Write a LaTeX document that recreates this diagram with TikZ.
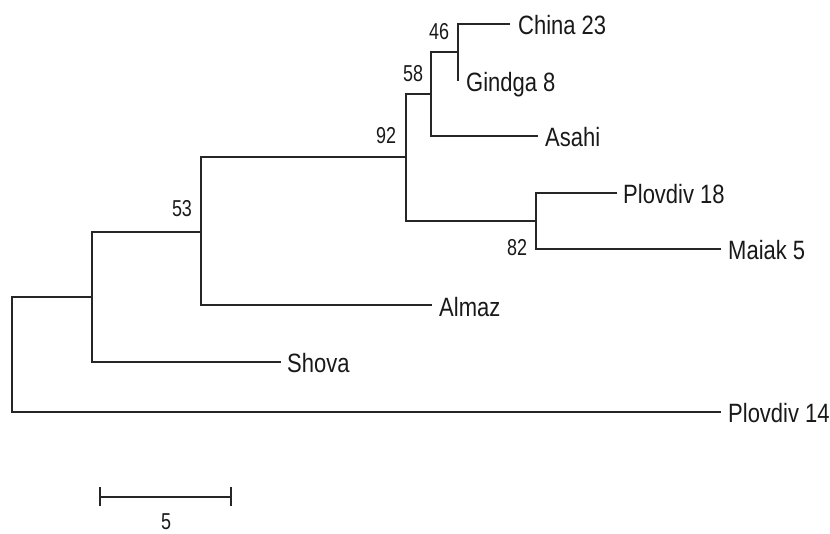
\documentclass[tikz,border=0pt]{standalone}
\usepackage{fontspec}
\setmainfont[FakeStretch=0.83]{Liberation Sans}
\newfontfamily\numfont[FakeStretch=0.78]{Liberation Sans}
\begin{document}
\begin{tikzpicture}[x=1pt,y=-1pt,
  branch/.style={line width=1.8pt, draw=black!85, line cap=rect},
  leaf/.style={anchor=west, inner sep=0pt, text=black!90, font=\fontsize{26.5}{26.5}\selectfont, text height=19pt, text depth=0pt},
  boot/.style={inner sep=0pt, text=black!90, font=\numfont\fontsize{23}{23}\selectfont, text height=16.5pt, text depth=0pt}]
\useasboundingbox (0,0) rectangle (830,534);
% internal nodes
\coordinate (n46) at (458,52);
\coordinate (n58) at (431,94);
\coordinate (n82) at (536,221);
\coordinate (n92) at (406,157);
\coordinate (n53) at (201,232);
\coordinate (nA) at (92,297);
\coordinate (root) at (12,297);
% leaf tips
\coordinate (tChina) at (509,24);
\coordinate (tGindga) at (458,80);
\coordinate (tAsahi) at (537,136);
\coordinate (tP18) at (616,193);
\coordinate (tMaiak) at (720,249);
\coordinate (tAlmaz) at (431,305);
\coordinate (tShova) at (280,362);
\coordinate (tP14) at (720,412);
% branches
\draw[branch] (n46) |- (tChina);
\draw[branch] (n46) |- (tGindga);
\draw[branch] (n58) |- (n46);
\draw[branch] (n58) |- (tAsahi);
\draw[branch] (n82) |- (tP18);
\draw[branch] (n82) |- (tMaiak);
\draw[branch] (n92) |- (n58);
\draw[branch] (n92) |- (n82);
\draw[branch] (n53) |- (n92);
\draw[branch] (n53) |- (tAlmaz);
\draw[branch] (nA) |- (n53);
\draw[branch] (nA) |- (tShova);
\draw[branch] (root) |- (nA);
\draw[branch] (root) |- (tP14);
% leaf labels
\node[leaf] (lChina) at ([shift={(9pt,-1pt)}]tChina) {China 23};
\node[leaf] (lGindga) at ([shift={(8pt,-2pt)}]tGindga) {Gindga 8};
\node[leaf] (lAsahi) at ([shift={(8pt,-1pt)}]tAsahi) {Asahi};
\node[leaf] (lP18) at ([shift={(7pt,-1pt)}]tP18) {Plovdiv 18};
\node[leaf] (lMaiak) at ([shift={(8pt,-1pt)}]tMaiak) {Maiak 5};
\node[leaf] (lAlmaz) at ([shift={(8pt,-2pt)}]tAlmaz) {Almaz};
\node[leaf] (lShova) at ([shift={(7pt,-1pt)}]tShova) {Shova};
\node[leaf] (lP14) at ([shift={(8pt,-1pt)}]tP14) {Plovdiv 14};
% bootstrap values
\node[boot] (b46) at (439,31) {46};
\node[boot] (b58) at (413,73) {58};
\node[boot] (b92) at (386,135.5) {92};
\node[boot] (b53) at (182,208) {53};
\node[boot] (b82) at (517,247) {82};
% scale bar
\coordinate (sL) at (100,497);
\coordinate (sR) at (231,497);
\draw[branch, line cap=butt] (sL) -- (sR);
\draw[branch, line cap=butt] ([yshift=-9pt]sL) -- ([yshift=10pt]sL);
\draw[branch, line cap=butt] ([yshift=-9pt]sR) -- ([yshift=10pt]sR);
\node[boot] (scale) at (166,521.5) {5};
\end{tikzpicture}
\end{document}
